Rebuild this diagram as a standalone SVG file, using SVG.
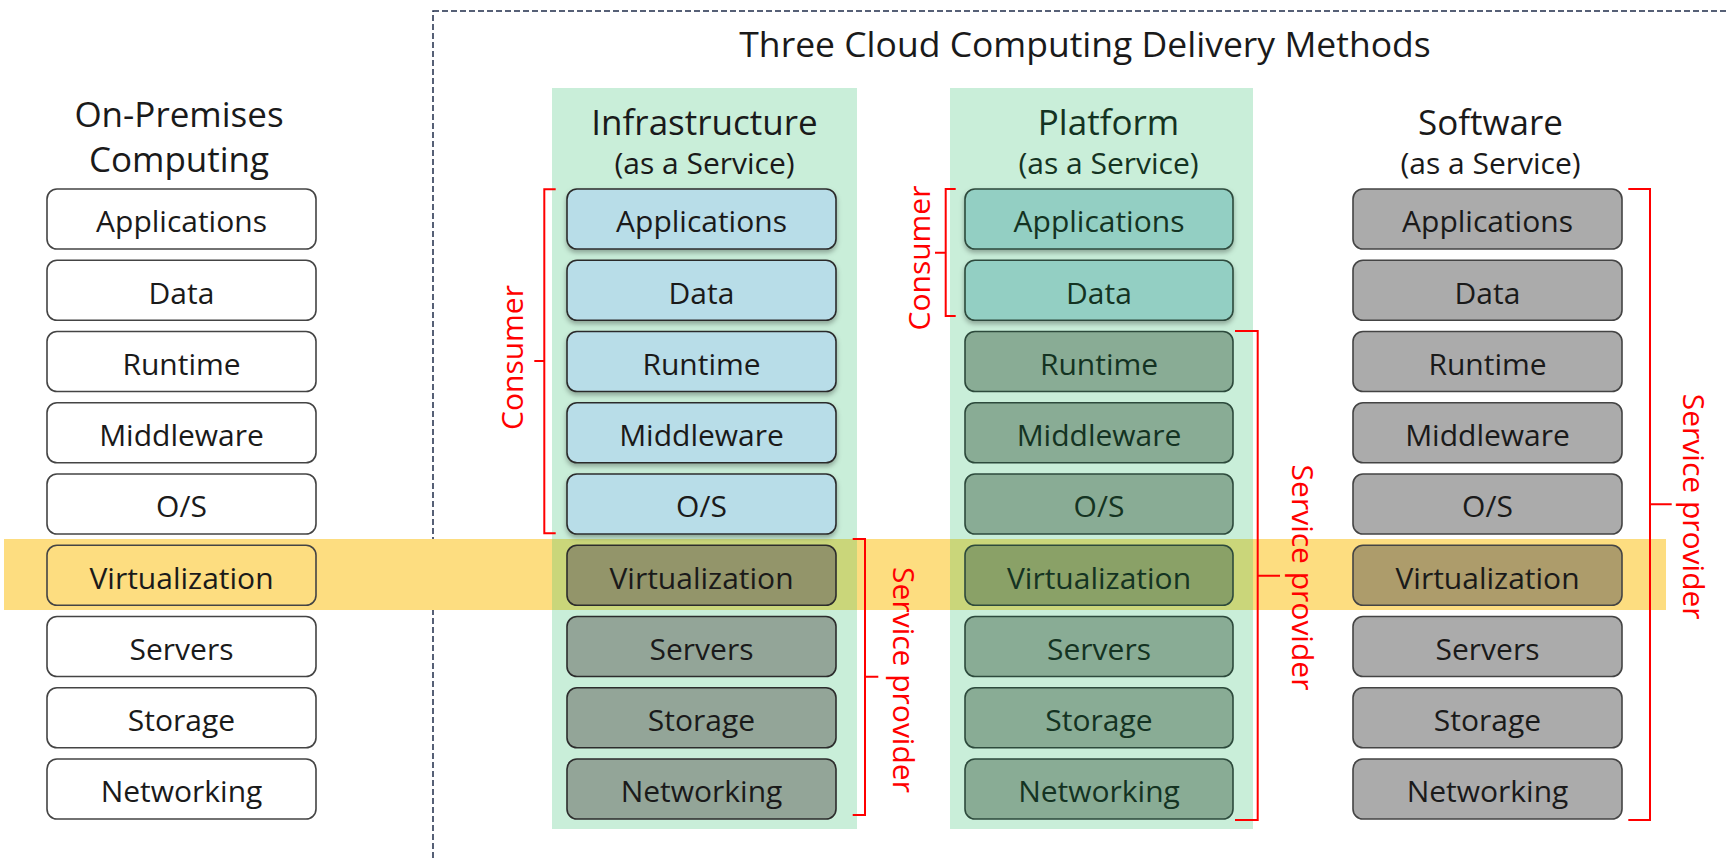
<svg xmlns="http://www.w3.org/2000/svg" width="1729" height="858" viewBox="0 0 1729 858">
  <style>
    text { font-family: "Open Sans", "Noto Sans", "Liberation Sans", sans-serif; }
    .title { font-size: 35.5px; fill: #1a1a1a; text-anchor: middle; }
    .hdr { font-size: 35px; fill: #1a1a1a; text-anchor: middle; }
    .sub { font-size: 30px; fill: #1a1a1a; text-anchor: middle; }
    .lbl { font-size: 30px; fill: #1a1a1a; text-anchor: middle; }
    .pgreen { fill: #143322; }
    .box { stroke-width: 1.6; }
    .onp { fill: #ffffff; stroke: #444444; }
    .onp-v { fill: #fddd80; stroke: #444444; }
    .iaas-c { fill: #b8dde8; stroke: #2c2c2c; }
    .iaas-p { fill: #93a598; stroke: #2c2c2c; }
    .iaas-v { fill: #93956a; stroke: #2c2c2c; }
    .paas-c { fill: #93cfc3; stroke: #2d4a3c; }
    .paas-p { fill: #89ac95; stroke: #2d4a3c; }
    .paas-v { fill: #8aa167; stroke: #2d4a3c; }
    .saas { fill: #ababab; stroke: #444444; }
    .saas-v { fill: #ad9c6b; stroke: #444444; }
    .brk { fill: none; stroke: #ff0000; stroke-width: 2; }
    .brk-t { font-size: 30px; fill: #ff0000; text-anchor: middle; }
  </style>
  <defs>
    <filter id="shadow" x="-10%" y="-20%" width="120%" height="160%">
      <feDropShadow dx="0" dy="3" stdDeviation="2.5" flood-color="#000000" flood-opacity="0.3"/>
    </filter>
  </defs>

  <!-- frame around the cloud part -->
  <rect x="433" y="11" width="1400" height="900" fill="none" stroke="#1f2d4a" stroke-width="1.5" stroke-dasharray="6 3"/>
  <text class="title" x="1085" y="57">Three Cloud Computing Delivery Methods</text>

  <!-- highlight band and column backdrops -->
  <rect x="4" y="539" width="1662" height="71" fill="#fddd80"/>
  <rect x="552" y="88" width="305" height="741" fill="#c9eed9"/>
  <rect x="950" y="88" width="303" height="741" fill="#c9eed9"/>
  <rect x="552" y="539" width="305" height="71" fill="#cad67a"/>
  <rect x="950" y="539" width="303" height="71" fill="#cad67a"/>

  <!-- On-Premises column -->
  <g id="onprem">
    <text class="hdr" x="179" y="127">On-Premises</text>
    <text class="hdr" x="179" y="172">Computing</text>
    <rect class="box onp" x="47" y="189" width="269" height="60" rx="10"/>
    <text class="lbl" x="181.5" y="232">Applications</text>
    <rect class="box onp" x="47" y="260.25" width="269" height="60" rx="10"/>
    <text class="lbl" x="181.5" y="303.5">Data</text>
    <rect class="box onp" x="47" y="331.5" width="269" height="60" rx="10"/>
    <text class="lbl" x="181.5" y="374.75">Runtime</text>
    <rect class="box onp" x="47" y="402.75" width="269" height="60" rx="10"/>
    <text class="lbl" x="181.5" y="446">Middleware</text>
    <rect class="box onp" x="47" y="474" width="269" height="60" rx="10"/>
    <text class="lbl" x="181.5" y="517.25">O/S</text>
    <rect class="box onp-v" x="47" y="545.25" width="269" height="60" rx="10"/>
    <text class="lbl" x="181.5" y="588.5">Virtualization</text>
    <rect class="box onp" x="47" y="616.5" width="269" height="60" rx="10"/>
    <text class="lbl" x="181.5" y="659.75">Servers</text>
    <rect class="box onp" x="47" y="687.75" width="269" height="60" rx="10"/>
    <text class="lbl" x="181.5" y="731">Storage</text>
    <rect class="box onp" x="47" y="759" width="269" height="60" rx="10"/>
    <text class="lbl" x="181.5" y="802.25">Networking</text>
  </g>

  <!-- Infrastructure as a Service -->
  <g id="iaas">
    <text class="hdr" x="704.5" y="135">Infrastructure</text>
    <text class="sub" x="704.5" y="174">(as a Service)</text>
    <g filter="url(#shadow)">
      <rect class="box iaas-c" x="567" y="189" width="269" height="60" rx="10"/>
      <rect class="box iaas-c" x="567" y="260.25" width="269" height="60" rx="10"/>
      <rect class="box iaas-c" x="567" y="331.5" width="269" height="60" rx="10"/>
      <rect class="box iaas-c" x="567" y="402.75" width="269" height="60" rx="10"/>
      <rect class="box iaas-c" x="567" y="474" width="269" height="60" rx="10"/>
    </g>
    <rect class="box iaas-v" x="567" y="545.25" width="269" height="60" rx="10"/>
    <rect class="box iaas-p" x="567" y="616.5" width="269" height="60" rx="10"/>
    <rect class="box iaas-p" x="567" y="687.75" width="269" height="60" rx="10"/>
    <rect class="box iaas-p" x="567" y="759" width="269" height="60" rx="10"/>
    <text class="lbl" x="701.5" y="232">Applications</text>
    <text class="lbl" x="701.5" y="303.5">Data</text>
    <text class="lbl" x="701.5" y="374.75">Runtime</text>
    <text class="lbl" x="701.5" y="446">Middleware</text>
    <text class="lbl" x="701.5" y="517.25">O/S</text>
    <text class="lbl" x="701.5" y="588.5">Virtualization</text>
    <text class="lbl" x="701.5" y="659.75">Servers</text>
    <text class="lbl" x="701.5" y="731">Storage</text>
    <text class="lbl" x="701.5" y="802.25">Networking</text>
  </g>

  <!-- Platform as a Service -->
  <g id="paas">
    <text class="hdr pgreen" x="1108.5" y="135">Platform</text>
    <text class="sub pgreen" x="1108.5" y="174">(as a Service)</text>
    <g filter="url(#shadow)">
      <rect class="box paas-c" x="965" y="189" width="268" height="60" rx="10"/>
      <rect class="box paas-c" x="965" y="260.25" width="268" height="60" rx="10"/>
    </g>
    <rect class="box paas-p" x="965" y="331.5" width="268" height="60" rx="10"/>
    <rect class="box paas-p" x="965" y="402.75" width="268" height="60" rx="10"/>
    <rect class="box paas-p" x="965" y="474" width="268" height="60" rx="10"/>
    <rect class="box paas-v" x="965" y="545.25" width="268" height="60" rx="10"/>
    <rect class="box paas-p" x="965" y="616.5" width="268" height="60" rx="10"/>
    <rect class="box paas-p" x="965" y="687.75" width="268" height="60" rx="10"/>
    <rect class="box paas-p" x="965" y="759" width="268" height="60" rx="10"/>
    <text class="lbl pgreen" x="1099" y="232">Applications</text>
    <text class="lbl pgreen" x="1099" y="303.5">Data</text>
    <text class="lbl pgreen" x="1099" y="374.75">Runtime</text>
    <text class="lbl pgreen" x="1099" y="446">Middleware</text>
    <text class="lbl pgreen" x="1099" y="517.25">O/S</text>
    <text class="lbl pgreen" x="1099" y="588.5">Virtualization</text>
    <text class="lbl pgreen" x="1099" y="659.75">Servers</text>
    <text class="lbl pgreen" x="1099" y="731">Storage</text>
    <text class="lbl pgreen" x="1099" y="802.25">Networking</text>
  </g>

  <!-- Software as a Service -->
  <g id="saas">
    <text class="hdr" x="1490.5" y="135">Software</text>
    <text class="sub" x="1490.5" y="174">(as a Service)</text>
    <rect class="box saas" x="1353" y="189" width="269" height="60" rx="10"/>
    <rect class="box saas" x="1353" y="260.25" width="269" height="60" rx="10"/>
    <rect class="box saas" x="1353" y="331.5" width="269" height="60" rx="10"/>
    <rect class="box saas" x="1353" y="402.75" width="269" height="60" rx="10"/>
    <rect class="box saas" x="1353" y="474" width="269" height="60" rx="10"/>
    <rect class="box saas-v" x="1353" y="545.25" width="269" height="60" rx="10"/>
    <rect class="box saas" x="1353" y="616.5" width="269" height="60" rx="10"/>
    <rect class="box saas" x="1353" y="687.75" width="269" height="60" rx="10"/>
    <rect class="box saas" x="1353" y="759" width="269" height="60" rx="10"/>
    <text class="lbl" x="1487.5" y="232">Applications</text>
    <text class="lbl" x="1487.5" y="303.5">Data</text>
    <text class="lbl" x="1487.5" y="374.75">Runtime</text>
    <text class="lbl" x="1487.5" y="446">Middleware</text>
    <text class="lbl" x="1487.5" y="517.25">O/S</text>
    <text class="lbl" x="1487.5" y="588.5">Virtualization</text>
    <text class="lbl" x="1487.5" y="659.75">Servers</text>
    <text class="lbl" x="1487.5" y="731">Storage</text>
    <text class="lbl" x="1487.5" y="802.25">Networking</text>
  </g>

  <!-- responsibility brackets -->
  <g id="brackets">
    <g id="iaas-consumer">
      <path class="brk" d="M555.7,189.3 H544.3 V533.3 H555.7 M544.3,361 H534.3"/>
      <text class="brk-t" transform="translate(523,357.5) rotate(-90)">Consumer</text>
    </g>
    <g id="iaas-provider">
      <path class="brk" d="M852.7,539 H865 V815 H852.7 M865,676.7 H878.3"/>
      <text class="brk-t" transform="translate(893,680) rotate(90)">Service provider</text>
    </g>
    <g id="paas-consumer">
      <path class="brk" d="M955.7,189 H945.7 V316 H955.7 M945.7,252.7 H935"/>
      <text class="brk-t" transform="translate(929.5,258) rotate(-90)">Consumer</text>
    </g>
    <g id="paas-provider">
      <path class="brk" d="M1235,331 H1257.7 V820 H1235 M1257.7,575.7 H1280"/>
      <text class="brk-t" transform="translate(1292,577.5) rotate(90)">Service provider</text>
    </g>
    <g id="saas-provider">
      <path class="brk" d="M1628.3,189 H1650 V820 H1628.3 M1650,504.3 H1671.7"/>
      <text class="brk-t" transform="translate(1683,506.7) rotate(90)">Service provider</text>
    </g>
  </g>
</svg>
